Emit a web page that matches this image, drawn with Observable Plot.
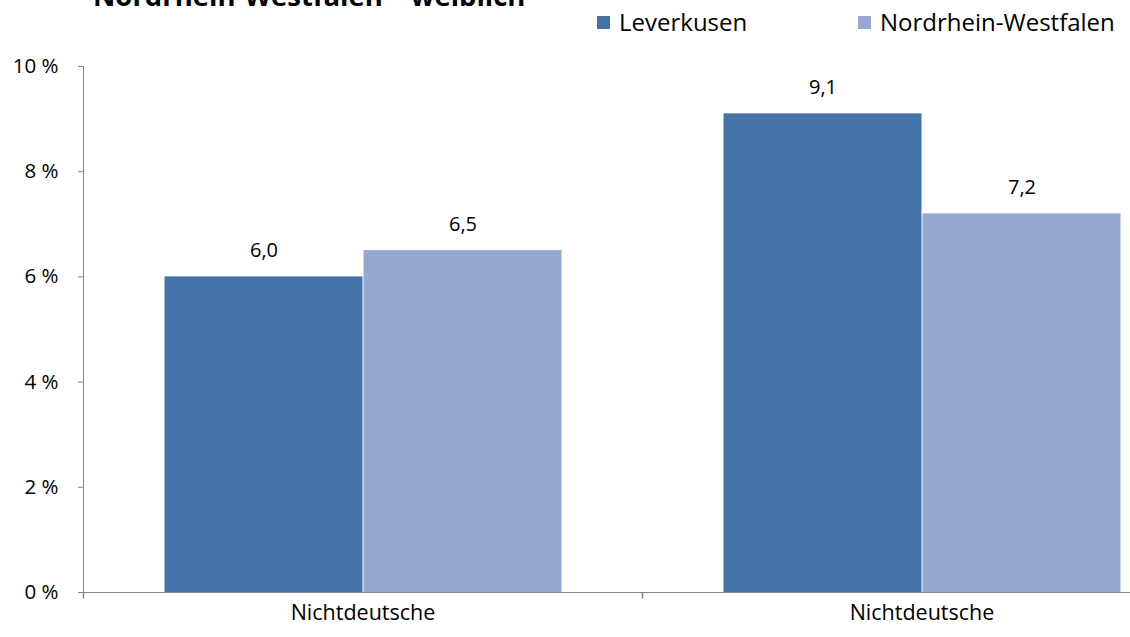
<!DOCTYPE html>
<html>
<head>
<meta charset="utf-8">
<script src="https://cdn.jsdelivr.net/npm/d3@7"></script>
<script src="https://cdn.jsdelivr.net/npm/@observablehq/plot@0.6"></script>
<style>
  html, body { margin: 0; padding: 0; background: #fff; overflow: hidden; }
  body { width: 1130px; height: 637px; font-family: "Open Sans", sans-serif; color: #000; }
  #header { position: relative; height: 40px; overflow: hidden; }
  #title { position: absolute; left: 93px; top: -18px; font-size: 27.5px; line-height: 1; font-weight: bold; white-space: nowrap; }
  .leg { position: absolute; top: 8px; height: 28px; line-height: 28px; font-size: 24px; white-space: nowrap; display: flex; align-items: center; }
  .sw { display: inline-block; width: 13px; height: 13px; margin-right: 9px; }
  #chart { width: 1130px; height: 597px; overflow: hidden; }
  #chart svg { max-width: none !important; height: 597px !important; }
</style>
</head>
<body>
<div id="header">
  <div id="title">Nordrhein-Westfalen – weiblich</div>
  <div class="leg" style="left:597px"><span class="sw" id="sw0"></span><span id="lt0"></span></div>
  <div class="leg" style="left:858px"><span class="sw" id="sw1"></span><span id="lt1"></span></div>
</div>
<div id="chart"></div>
<script>
const categories = ["Nichtdeutsche", "Nichtdeutsche"];
const series = ["Leverkusen", "Nordrhein-Westfalen"];
const leverkusen = [6.0, 9.1];
const nordrheinWestfalen = [6.5, 7.2];
const yTicks = [0, 2, 4, 6, 8, 10];
const colors = ["#4572A7", "#95A9D0"];

const groupIds = categories.map((c, i) => i);
const rows = [];
groupIds.forEach(i => {
  rows.push({group: i, series: series[0], value: leverkusen[i]});
  rows.push({group: i, series: series[1], value: nordrheinWestfalen[i]});
});

series.forEach((s, i) => {
  document.getElementById("sw" + i).style.background = colors[i];
  document.getElementById("lt" + i).textContent = s;
});

const fmt = v => d3.format(".1f")(v).replace(".", ",");
const gray = "#868686";
const tickSymbol = {draw(ctx) { ctx.moveTo(0, 0); ctx.lineTo(0, 6); }};

const chart = Plot.plot({
  width: 1210,
  height: 597,
  marginLeft: 83,
  marginRight: 9,
  marginTop: 26,
  marginBottom: 45,
  style: {fontFamily: "Open Sans", fontSize: "20px", color: "#000", background: "#fff", overflow: "visible", maxWidth: "none"},
  fx: {domain: groupIds, padding: 0, axis: null},
  x: {domain: series, paddingInner: 0, paddingOuter: 0.4, axis: null},
  y: {domain: [0, 10], axis: null},
  color: {domain: series, range: colors},
  marks: [
    Plot.barY(rows, {fx: "group", x: "series", y: "value", fill: "series", insetLeft: 0.5, insetRight: 0.5}),
    Plot.text(rows, {fx: "group", x: "series", y: "value", text: d => fmt(d.value), lineAnchor: "bottom", dy: -20, fontSize: 20, fill: "#000"}),
    Plot.ruleY([0], {stroke: gray}),
    Plot.frame({anchor: "left", facetAnchor: "left", stroke: gray}),
    Plot.dot([0], {frameAnchor: "bottom-left", symbol: tickSymbol, stroke: gray, fill: "none"}),
    Plot.axisY({ticks: yTicks, tickFormat: d => d + " %", tickSize: 5, tickPadding: 20, stroke: gray, fill: "#000", fontSize: 20.5, label: null}),
    Plot.axisFx({anchor: "bottom", tickSize: 0, tickPadding: 12, tickFormat: i => categories[i], fill: "#000", fontSize: 21.5, label: null})
  ]
});
document.getElementById("chart").appendChild(chart);
</script>
</body>
</html>
